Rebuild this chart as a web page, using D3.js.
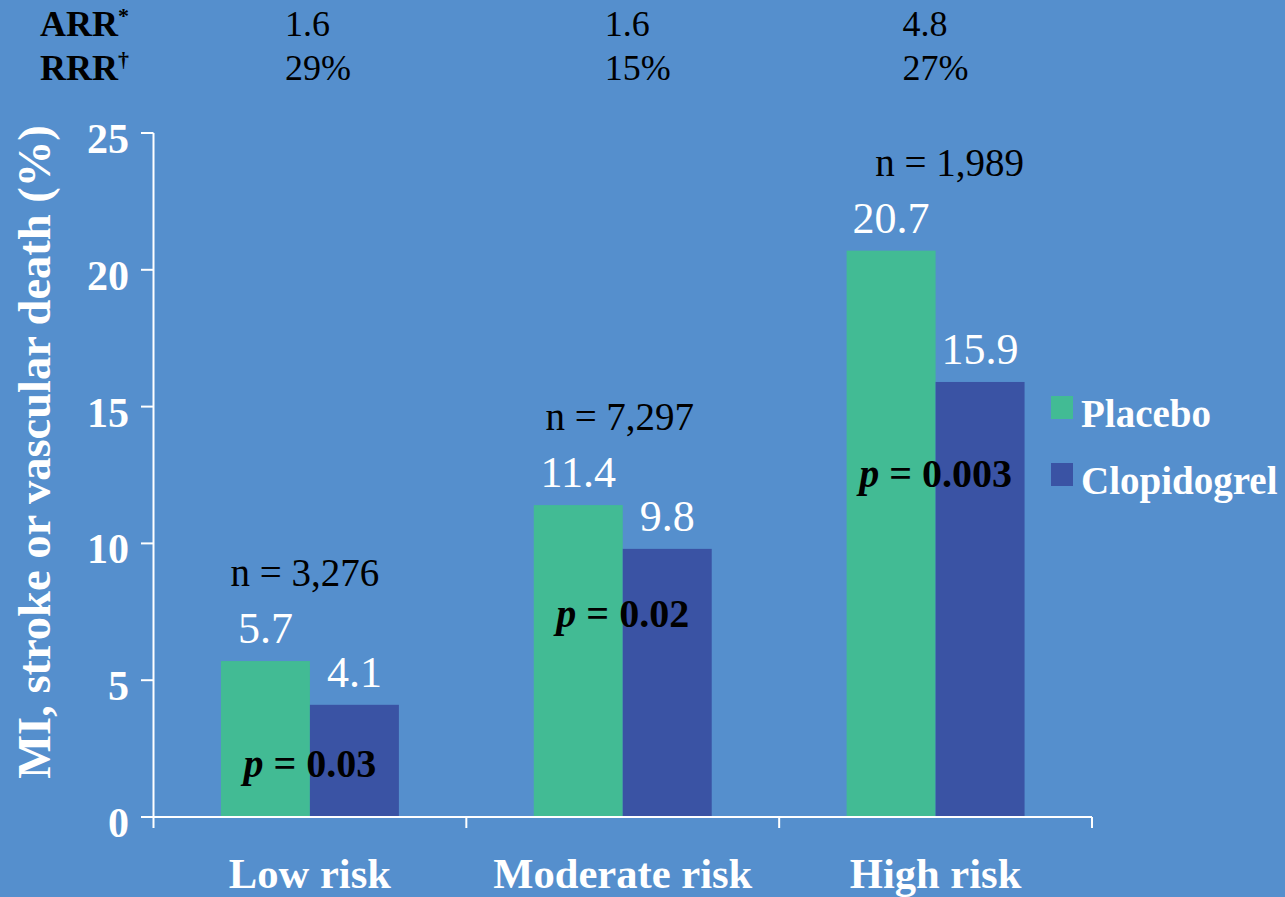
<!DOCTYPE html>
<html>
<head>
<meta charset="utf-8">
<script src="https://cdn.jsdelivr.net/npm/d3@7"></script>
<style>
  html, body { margin: 0; padding: 0; background: #558fcd; }
  svg { display: block; }
  text { font-family: "Liberation Serif", "Times New Roman", serif; }
</style>
</head>
<body>
<svg id="chart" width="1285" height="897"></svg>
<script>
// Event rates by risk group
const categories = ["Low risk", "Moderate risk", "High risk"];
const seriesNames = ["Placebo", "Clopidogrel"];
const placebo = [5.7, 11.4, 20.7];
const clopidogrel = [4.1, 9.8, 15.9];
const sampleSizes = ["n = 3,276", "n = 7,297", "n = 1,989"];
const pValues = ["0.03", "0.02", "0.003"];
const arr = ["1.6", "1.6", "4.8"];
const rrr = ["29%", "15%", "27%"];
const yTicks = [0, 5, 10, 15, 20, 25];

const colors = { Placebo: "#42bb94", Clopidogrel: "#3a53a4" };
const W = 1285, H = 897;
const svg = d3.select("#chart");

svg.append("rect").attr("width", W).attr("height", H).attr("fill", "#558fcd");

const x0 = d3.scaleBand().domain(categories).range([153.5, 1092]).paddingInner(0).paddingOuter(0);
const x1 = d3.scaleBand().domain(seriesNames).range([0, x0.bandwidth()]).paddingInner(0).paddingOuter(0.758);
const y = d3.scaleLinear().domain([0, 25]).range([817, 133]);

const rows = categories.map((c, i) => ({
  cat: c, values: [
    { name: "Placebo", v: placebo[i] },
    { name: "Clopidogrel", v: clopidogrel[i] }
  ]
}));

// Bars
const groups = svg.append("g").selectAll("g").data(rows).join("g")
  .attr("transform", d => `translate(${x0(d.cat)},0)`);

groups.selectAll("rect").data(d => d.values).join("rect")
  .attr("x", d => x1(d.name))
  .attr("y", d => y(d.v))
  .attr("width", x1.bandwidth())
  .attr("height", d => y(0) - y(d.v))
  .attr("fill", d => colors[d.name]);

// Value labels above bars
groups.selectAll("text.val").data(d => d.values).join("text")
  .attr("class", "val")
  .attr("x", d => x1(d.name) + x1.bandwidth() / 2)
  .attr("y", d => y(d.v) - 18)
  .attr("text-anchor", "middle")
  .attr("fill", "#ffffff")
  .attr("font-size", 44)
  .text(d => d.v.toFixed(1));

// Sample size labels
const nShift = [-5, -3, 14];
svg.append("g").selectAll("text").data(rows).join("text")
  .attr("x", (d, i) => x0(d.cat) + x0.bandwidth() / 2 + nShift[i])
  .attr("y", d => y(d.values[0].v) - 75)
  .attr("text-anchor", "middle")
  .attr("fill", "#000000")
  .attr("font-size", 39)
  .text((d, i) => sampleSizes[i]);

// p-value labels across each pair of bars
const pAt = [1.46, 6.94, 12.06];
const pText = svg.append("g").selectAll("text").data(rows).join("text")
  .attr("x", d => x0(d.cat) + x0.bandwidth() / 2)
  .attr("y", (d, i) => y(pAt[i]))
  .attr("text-anchor", "middle")
  .attr("fill", "#000000")
  .attr("font-size", 40)
  .attr("font-weight", "bold");
pText.append("tspan").attr("font-style", "italic").text("p");
pText.append("tspan").text((d, i) => " = " + pValues[i]);

// Axes
const axisG = svg.append("g").attr("stroke", "#ffffff").attr("stroke-width", 2).attr("fill", "none");
axisG.append("line").attr("x1", 153.5).attr("x2", 153.5).attr("y1", y(25)).attr("y2", y(0));
axisG.selectAll("line.yt").data(yTicks).join("line").attr("class", "yt")
  .attr("x1", 141).attr("x2", 153.5).attr("y1", d => y(d)).attr("y2", d => y(d));
axisG.append("line").attr("x1", 141).attr("x2", 1092).attr("y1", y(0)).attr("y2", y(0));
const bounds = categories.map(c => x0(c)).concat([x0.range()[1]]);
axisG.selectAll("line.xt").data(bounds).join("line").attr("class", "xt")
  .attr("x1", d => d).attr("x2", d => d).attr("y1", y(0)).attr("y2", y(0) + 11);

svg.append("g").selectAll("text").data(yTicks).join("text")
  .attr("x", 129)
  .attr("y", d => y(d) + 20)
  .attr("text-anchor", "end")
  .attr("fill", "#ffffff")
  .attr("font-size", 42)
  .attr("font-weight", "bold")
  .text(d => d);

svg.append("g").selectAll("text").data(categories).join("text")
  .attr("x", d => x0(d) + x0.bandwidth() / 2)
  .attr("y", 888)
  .attr("text-anchor", "middle")
  .attr("fill", "#ffffff")
  .attr("font-size", 42.6)
  .attr("font-weight", "bold")
  .text(d => d);

svg.append("text")
  .attr("transform", "translate(50,452) rotate(-90)")
  .attr("text-anchor", "middle")
  .attr("fill", "#ffffff")
  .attr("font-size", 46.5)
  .attr("font-weight", "bold")
  .text("MI, stroke or vascular death (%)");

// Header rows: absolute and relative risk reduction
const header = svg.append("g").attr("fill", "#000000");
const hdrRows = [
  { label: "ARR", mark: "*", vals: arr, yb: 36 },
  { label: "RRR", mark: "\u2020", vals: rrr, yb: 80 }
];
const hdrShift = [-25, -18, -33];
hdrRows.forEach(r => {
  const t = header.append("text").attr("x", 40).attr("y", r.yb)
    .attr("font-size", 36).attr("font-weight", "bold");
  t.append("tspan").text(r.label);
  t.append("tspan").attr("font-size", 22).attr("dy", -13).text(r.mark);
  header.selectAll(null).data(r.vals).join("text")
    .attr("x", (d, i) => x0(categories[i]) + x0.bandwidth() / 2 + hdrShift[i])
    .attr("y", r.yb)
    .attr("font-size", 36)
    .text(d => d);
});

// Legend
const legend = svg.append("g").selectAll("g").data(seriesNames).join("g")
  .attr("transform", (d, i) => `translate(1051,${396 + i * 67})`);
legend.append("rect").attr("width", 22).attr("height", 23).attr("fill", d => colors[d]);
legend.append("text").attr("x", 30).attr("y", 31)
  .attr("fill", "#ffffff").attr("font-size", 39).attr("font-weight", "bold")
  .text(d => d);
</script>
</body>
</html>
